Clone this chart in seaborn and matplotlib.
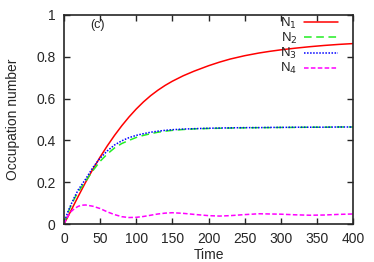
import matplotlib
matplotlib.use('Agg')
from matplotlib import pyplot as plt
import pandas as pd
import seaborn as sns

# values
time = [0, 5, 10, 15, 20, 25, 30, 40, 50, 60, 70, 80, 90, 100, 110, 120, 130, 140,
        150, 165, 180, 200, 215, 230, 250, 270, 285, 300, 320, 340, 360, 380, 400]
n1 = [0, 0.032, 0.066, 0.1, 0.134, 0.167, 0.2, 0.262, 0.32, 0.374, 0.424, 0.47, 0.512,
      0.55, 0.584, 0.614, 0.64, 0.663, 0.683, 0.709, 0.731, 0.757, 0.774, 0.789, 0.805,
      0.818, 0.826, 0.833, 0.841, 0.848, 0.854, 0.859, 0.863]
n2 = [0, 0.05, 0.09, 0.125, 0.155, 0.18, 0.205, 0.255, 0.30, 0.335, 0.364, 0.385, 0.40,
      0.414, 0.424, 0.432, 0.439, 0.444, 0.448, 0.452, 0.455, 0.457, 0.458, 0.459, 0.46,
      0.461, 0.461, 0.462, 0.462, 0.463, 0.463, 0.464, 0.464]
n3 = [0, 0.055, 0.095, 0.132, 0.165, 0.19, 0.215, 0.27, 0.315, 0.35, 0.378, 0.398, 0.413,
      0.424, 0.432, 0.439, 0.444, 0.448, 0.451, 0.454, 0.456, 0.458, 0.459, 0.46, 0.461,
      0.461, 0.462, 0.462, 0.463, 0.463, 0.463, 0.464, 0.464]
n4 = [0, 0.035, 0.06, 0.075, 0.085, 0.09, 0.091, 0.085, 0.074, 0.058, 0.045, 0.035, 0.031,
      0.032, 0.036, 0.042, 0.048, 0.052, 0.054, 0.051, 0.046, 0.04, 0.038, 0.04, 0.045,
      0.049, 0.048, 0.047, 0.044, 0.042, 0.043, 0.046, 0.048]

labels = ['N$_1$', 'N$_2$', 'N$_3$', 'N$_4$']
colors = ['#ff0000', '#22ee22', '#0000ff', '#ff00ff']
dashes = [None, (5, 3), (1, 1), (3, 1.5)]

df = pd.DataFrame({'Time': time, 'N1': n1, 'N2': n2, 'N3': n3, 'N4': n4})

sns.set_style('ticks')
plt.rcParams['font.family'] = ['Liberation Sans', 'DejaVu Sans']

fig = plt.figure(figsize=(3.74, 2.62), dpi=100)
ax = fig.add_axes([0.171, 0.145, 0.773, 0.798])

for col, lab, c, d in zip(['N1', 'N2', 'N3', 'N4'], labels, colors, dashes):
    sns.lineplot(data=df, x='Time', y=col, ax=ax, color=c, lw=1.1, label=lab)
    if d is not None:
        ax.lines[-1].set_dashes(d)

ax.set_xlim(0, 400)
ax.set_ylim(0, 1)
ax.set_xticks(range(0, 401, 50))
ax.set_yticks([0, 0.2, 0.4, 0.6, 0.8, 1])
ax.set_yticklabels(['0', '0.2', '0.4', '0.6', '0.8', '1'])
ax.tick_params(direction='in', top=True, right=True, length=4, width=1,
               labelsize=10, pad=6)
for s in ax.spines.values():
    s.set_linewidth(1.2)
ax.set_xlabel('Time', fontsize=10, labelpad=1.5)
ax.set_ylabel('Occupation number', fontsize=10, labelpad=12)
ax.text(46, 0.952, '(c)', fontsize=9, ha='center', va='center')

ax.legend(loc='upper right', frameon=False, markerfirst=False, fontsize=9.5,
          handlelength=2.6, labelspacing=0.0, borderaxespad=0.0, borderpad=0.0,
          handletextpad=0.5, bbox_to_anchor=(0.948, 0.995))

plt.savefig('out.png', dpi=100)
